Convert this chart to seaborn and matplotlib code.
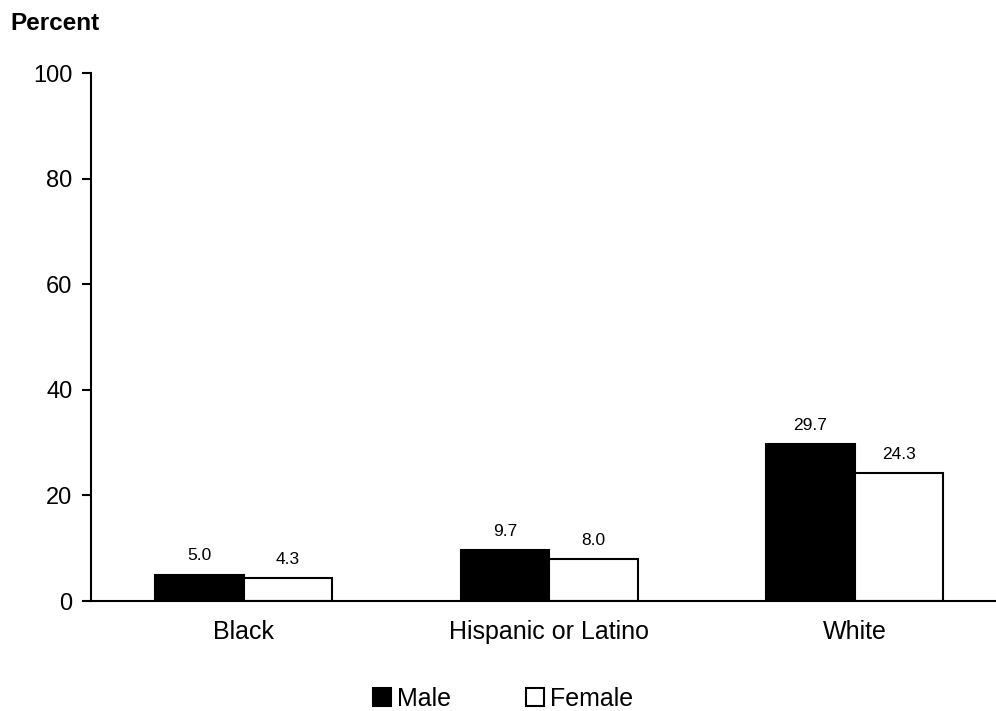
import pandas as pd
import matplotlib.pyplot as plt
import seaborn as sns

# Values
groups = ['Black', 'Hispanic or Latino', 'White']
male = [5.0, 9.7, 29.7]
female = [4.3, 8.0, 24.3]

df = pd.DataFrame({
    'Group': groups * 2,
    'Sex': ['Male'] * 3 + ['Female'] * 3,
    'Percent': male + female,
})

sns.set_style('white')
plt.rcParams['font.family'] = ['Liberation Sans', 'DejaVu Sans']
plt.rcParams['text.color'] = 'black'
plt.rcParams['xtick.color'] = 'black'
plt.rcParams['ytick.color'] = 'black'

fig = plt.figure(figsize=(9.96, 7.11), dpi=100)
ax = fig.add_axes([0.0914, 0.1547, 0.9076, 0.7426])

sns.barplot(data=df, x='Group', y='Percent', hue='Sex', order=groups,
            hue_order=['Male', 'Female'], palette=['black', 'white'],
            edgecolor='black', linewidth=1.5, width=0.58, ax=ax)

for cont in ax.containers:
    ax.bar_label(cont, fmt='%.1f', padding=8, fontsize=12.5)

ax.set_ylim(0, 100)
ax.set_xlim(-0.5, 2.46)
ax.set_yticks(range(0, 101, 20))
ax.set_xlabel('')
ax.set_ylabel('')
ax.tick_params(axis='y', left=True, length=6.5, width=1.5, labelsize=17, pad=7, direction='out')
ax.tick_params(axis='x', bottom=False, labelsize=18, pad=10)
sns.despine(ax=ax)
for s in ['left', 'bottom']:
    ax.spines[s].set_linewidth(1.5)
    ax.spines[s].set_color('black')

fig.text(0.010, 0.958, 'Percent', fontsize=17.5, fontweight='bold')

handles, labels = ax.get_legend_handles_labels()
ax.get_legend().remove()
fig.legend(handles, labels, loc='center', bbox_to_anchor=(503 / 996, 1 - 699 / 711),
           ncol=2, frameon=False, fontsize=18, handlelength=0.72, handleheight=0.72,
           handletextpad=0.25, columnspacing=3.0, borderpad=0)

fig.savefig('out.png', dpi=100)
